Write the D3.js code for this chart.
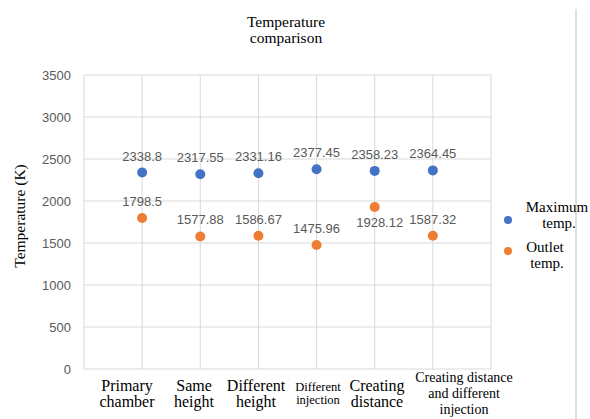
<!DOCTYPE html>
<html>
<head>
<meta charset="utf-8">
<script src="https://cdn.jsdelivr.net/npm/d3@7"></script>
<style>
  body { margin: 0; background: #fff; }
  svg { display: block; }
</style>
</head>
<body>
<svg id="chart" width="590" height="419"></svg>
<script>
// data
var categories = [
    ["Primary", "chamber"],
    ["Same", "height"],
    ["Different", "height"],
    ["Different", "injection"],
    ["Creating", "distance"],
    ["Creating distance", "and different", "injection"]
];
var maxTemp = [2338.8, 2317.55, 2331.16, 2377.45, 2358.23, 2364.45];
var outletTemp = [1798.5, 1577.88, 1586.67, 1475.96, 1928.12, 1587.32];
var maxLabels = ["2338.8", "2317.55", "2331.16", "2377.45", "2358.23", "2364.45"];
var outletLabels = ["1798.5", "1577.88", "1586.67", "1475.96", "1928.12", "1587.32"];
var yTicks = [0, 500, 1000, 1500, 2000, 2500, 3000, 3500];
var seriesNames = [["Maximum", "temp."], ["Outlet", "temp."]];
var colors = ["#4472C4", "#ED7D31"];

var svg = d3.select("#chart");
var margin = {left: 84, right: 99, top: 75, bottom: 50};
var width = 590 - margin.left - margin.right,
    height = 419 - margin.top - margin.bottom;

var g = svg.append("g")
    .attr("transform", "translate(" + margin.left + "," + margin.top + ")");

// x runs 0..7, categories sit on 1..6
var xScale = d3.scaleLinear().domain([0, 7]).range([0, width]);
var yScale = d3.scaleLinear().domain([0, 3500]).range([height, 0]);

// right border line of the original figure
svg.append("line")
    .attr("x1", 576).attr("x2", 576)
    .attr("y1", 9).attr("y2", 419)
    .attr("stroke", "#d4d4d4").attr("stroke-width", 1.5);

// title
svg.append("text")
    .attr("x", 286).attr("y", 27)
    .attr("text-anchor", "middle")
    .attr("font-family", "Liberation Serif, Times New Roman, serif")
    .attr("font-size", 15.5)
    .selectAll("tspan")
    .data(["Temperature", "comparison"])
    .enter().append("tspan")
    .attr("x", 286)
    .attr("dy", function(d, i) { return i ? 16 : 0; })
    .text(function(d) { return d; });

// gridlines
g.append("g")
    .selectAll("line")
    .data(yTicks)
    .enter().append("line")
    .attr("x1", 0).attr("x2", width)
    .attr("y1", function(d) { return yScale(d); })
    .attr("y2", function(d) { return yScale(d); })
    .attr("stroke", "#d9d9d9").attr("stroke-width", 1);

g.append("g")
    .selectAll("line")
    .data(d3.range(0, 8))
    .enter().append("line")
    .attr("x1", function(d) { return xScale(d); })
    .attr("x2", function(d) { return xScale(d); })
    .attr("y1", 0).attr("y2", height)
    .attr("stroke", "#d9d9d9").attr("stroke-width", 1);

// y axis without line and ticks
var yAxis = d3.axisLeft(yScale).tickValues(yTicks)
    .tickFormat(d3.format("d")).tickSize(0).tickPadding(13);
g.append("g")
    .attr("class", "y axis")
    .call(yAxis)
    .call(function(s) { s.select(".domain").remove(); })
    .selectAll("text")
    .attr("font-family", "Liberation Sans, Arial, sans-serif")
    .attr("font-size", 13)
    .attr("fill", "#595959");

// y label
svg.append("text")
    .attr("transform", "translate(25,216) rotate(-90)")
    .attr("text-anchor", "middle")
    .attr("font-family", "Liberation Serif, Times New Roman, serif")
    .attr("font-size", 15.5)
    .text("Temperature (K)");

// x category labels (placed by hand in the original, not centred on the points)
var labelX = [127, 194, 256, 318, 377, 464];
var labelY = [391, 391, 391, 391, 391, 382];
var xl = svg.append("g").selectAll("text")
    .data(categories)
    .enter().append("text")
    .attr("text-anchor", "middle")
    .attr("font-family", "Liberation Serif, Times New Roman, serif")
    .attr("font-size", function(d, i) {
        if (i === 3) return 12.5;
        return i === 5 ? 14 : 16;
    })
    .attr("transform", function(d, i) {
        return "translate(" + labelX[i] + "," + labelY[i] + ")";
    });
xl.selectAll("tspan")
    .data(function(d, i) { return d.map(function(t) { return {t: t, c: i}; }); })
    .enter().append("tspan")
    .attr("x", 0)
    .attr("dy", function(d, j) {
        if (j === 0) return 0;
        if (d.c === 3) return 13;
        return 16;
    })
    .text(function(d) { return d.t; });

// points and labels
var series = [
    {vals: maxTemp, labels: maxLabels, color: colors[0]},
    {vals: outletTemp, labels: outletLabels, color: colors[1]}
];

series.forEach(function(s, si) {
    g.append("g").selectAll("circle")
        .data(s.vals)
        .enter().append("circle")
        .attr("cx", function(d, i) { return xScale(i + 1); })
        .attr("cy", function(d) { return yScale(d); })
        .attr("r", 5)
        .attr("fill", s.color);

    g.append("g").selectAll("text")
        .data(s.vals)
        .enter().append("text")
        .attr("x", function(d, i) {
            return xScale(i + 1) + (si === 1 && i === 4 ? 5 : 0);
        })
        .attr("y", function(d, i) {
            // 1928.12 label sits under its point
            if (si === 1 && i === 4) return yScale(d) + 20;
            return yScale(d) - 12;
        })
        .attr("text-anchor", "middle")
        .attr("font-family", "Liberation Sans, Arial, sans-serif")
        .attr("font-size", 13)
        .attr("fill", "#595959")
        .text(function(d, i) { return s.labels[i]; });
});

// legend
var legend = svg.append("g");
var legendTextX = [[557, 559], [545, 547]];
var legendTextY = [212, 252];
seriesNames.forEach(function(name, i) {
    legend.append("circle")
        .attr("cx", 508).attr("cy", 220 + i * 31).attr("r", 4)
        .attr("fill", colors[i]);
    legend.append("text")
        .attr("y", legendTextY[i])
        .attr("text-anchor", "middle")
        .attr("font-family", "Liberation Serif, Times New Roman, serif")
        .attr("font-size", 15)
        .selectAll("tspan")
        .data(name)
        .enter().append("tspan")
        .attr("x", function(d, j) { return legendTextX[i][j]; })
        .attr("dy", function(d, j) { return j ? 16 : 0; })
        .text(function(d) { return d; });
});
</script>
</body>
</html>
